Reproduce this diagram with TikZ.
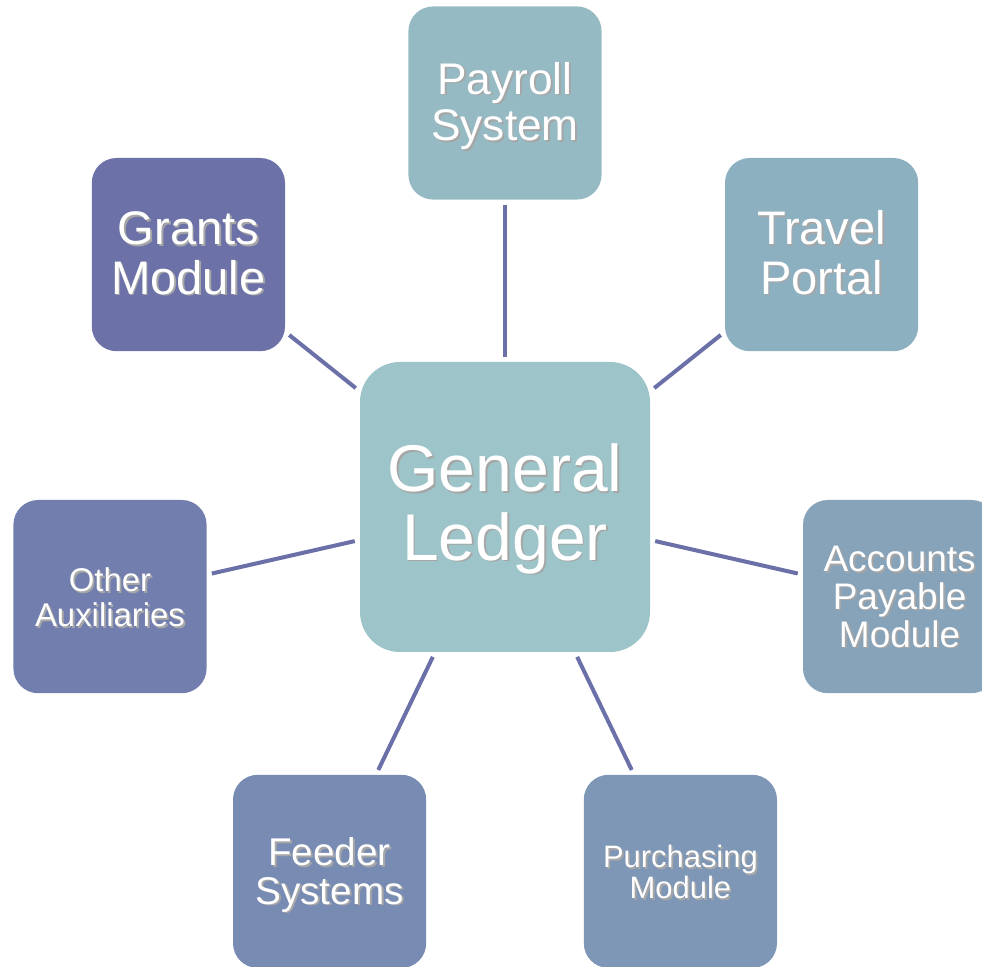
\documentclass[tikz,border=0pt]{standalone}
\usepackage{fontspec}
\setmainfont{Liberation Sans}
\usepackage{tikz}
\usepackage{tkz-euclide}

\definecolor{GLcol}{HTML}{9CC4C9}
\definecolor{PScol}{HTML}{96BAC4}
\definecolor{TPcol}{HTML}{8DB0C1}
\definecolor{APcol}{HTML}{87A3BA}
\definecolor{PMcol}{HTML}{7F97B6}
\definecolor{FScol}{HTML}{778BB3}
\definecolor{OAcol}{HTML}{717EAE}
\definecolor{GMcol}{HTML}{6C72A7}
\definecolor{linkcol}{HTML}{6B70A8}

\newcommand{\shtext}[1]{\raisebox{-4.3pt}[\height][\depth]{\makebox[0pt][l]{\hspace{1.3pt}\raisebox{-1.3pt}{\textcolor{black!35}{\begin{tabular}{@{}c@{}}#1\end{tabular}}}}\begin{tabular}{@{}c@{}}#1\end{tabular}}}

\begin{document}
\begin{tikzpicture}[
    box/.style={rounded corners=0.62cm,minimum width=4.83cm,minimum height=4.83cm,inner sep=0pt,text=white},
    link/.style={color=linkcol,line width=2.85pt,shorten <=3.6pt,shorten >=3.6pt}]
    \useasboundingbox (0,0) rectangle (24.55,24.175);

    \tkzDefPoints{12.625/11.5/GL,12.625/21.6/PS,20.54/17.81/TP,22.49/9.26/AP}
    \tkzDefPoints{17.01/2.39/PM,8.24/2.39/FS,2.75/9.26/OA,4.71/17.81/GM}

    \node[box,fill=GLcol,rounded corners=1cm,minimum width=7.25cm,minimum height=7.25cm,font=\fontsize{47}{48}\selectfont] (GL_box) at (GL) {\shtext{General\\Ledger}};
    \node[box,fill=PScol,font=\fontsize{31.5}{33.4}\selectfont] (PS_box) at (PS) {\shtext{Payroll\\System}};
    \node[box,fill=TPcol,font=\fontsize{33.5}{35}\selectfont] (TP_box) at (TP) {\shtext{Travel\\Portal}};
    \node[box,fill=APcol,font=\fontsize{26.3}{26.3}\selectfont] (AP_box) at (AP) {\shtext{Accounts\\Payable\\Module}};
    \node[box,fill=PMcol,font=\fontsize{22}{20.5}\selectfont] (PM_box) at (PM) {\shtext{Purchasing\\Module}};
    \node[box,fill=FScol,font=\fontsize{27.5}{27.7}\selectfont] (FS_box) at (FS) {\shtext{Feeder\\Systems}};
    \node[box,fill=OAcol,font=\fontsize{23.4}{25}\selectfont] (OA_box) at (OA) {\shtext{Other\\Auxiliaries}};
    \node[box,fill=GMcol,font=\fontsize{33.5}{35}\selectfont] (GM_box) at (GM) {\shtext{Grants\\Module}};

    \draw[link] (GL_box) -- (PS_box);
    \draw[link] (GL_box) -- (TP_box);
    \draw[link] (GL_box) -- (AP_box);
    \draw[link] (GL_box) -- (PM_box);
    \draw[link] (GL_box) -- (FS_box);
    \draw[link] (GL_box) -- (OA_box);
    \draw[link] (GL_box) -- (GM_box);

\end{tikzpicture}
\end{document}
